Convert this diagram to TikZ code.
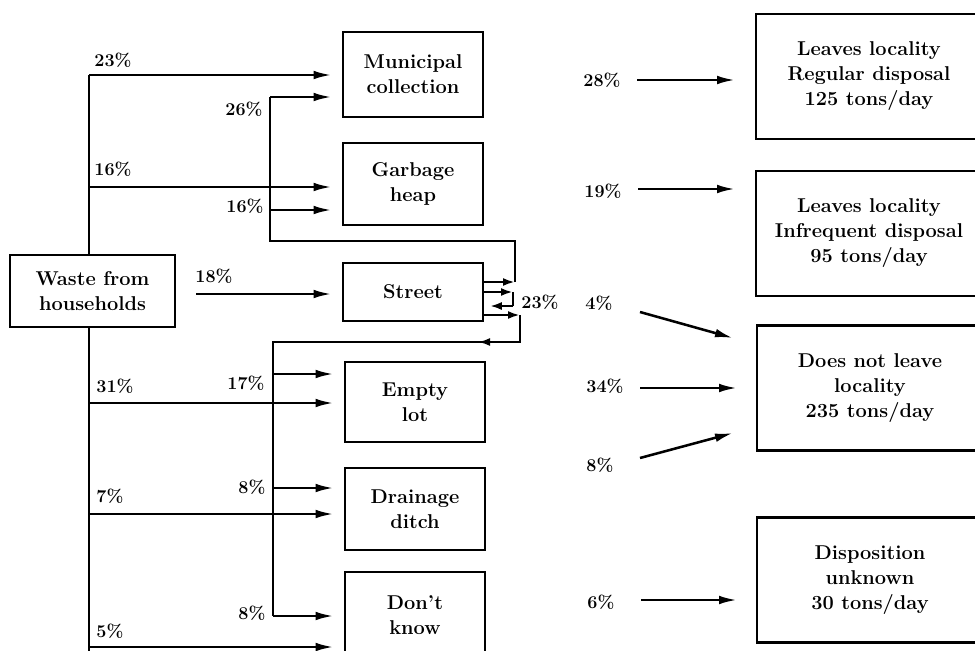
\documentclass[tikz,border=0pt]{standalone}
\usetikzlibrary{arrows.meta}
\begin{document}
\begin{tikzpicture}[x=0.75pt,y=-0.75pt,
  box/.style={draw, line width=2.2pt, inner sep=0pt, align=center, font=\fontsize{15}{18.75}\selectfont\bfseries},
  midbox/.style={box, minimum width=105pt},
  rbox/.style={box, minimum width=169.5pt, minimum height=93.75pt},
  pct/.style={inner sep=0pt, font=\fontsize{13.5}{16}\selectfont\bfseries},
  ln/.style={line width=1.9pt},
  arr/.style={ln, -{Latex[length=13.5pt,width=6.5pt]}, shorten >=7.5pt},
  arrR/.style={ln, -{Latex[length=13.5pt,width=6.5pt]}},
  tip/.style={ln, -{Latex[length=9pt,width=6pt]}}]
\useasboundingbox (0,0) rectangle (975,650);
\clip (0,0) rectangle (975,650);

% boxes
\node[box, minimum width=123.75pt, minimum height=54pt] (waste) at (92.5,291) {Waste from\\households};
\node[midbox, minimum height=63.75pt] (mun) at (413,74.5) {Municipal\\collection};
\node[midbox, minimum height=61.5pt] (gar) at (413,184) {Garbage\\heap};
\node[midbox, minimum height=43.5pt] (str) at (413,292) {Street};
\node[midbox, minimum height=60pt] (emp) at (415,402) {Empty\\lot};
\node[midbox, minimum height=61.5pt] (dra) at (415,509) {Drainage\\ditch};
\node[midbox, minimum height=64.5pt] (dk) at (415,615) {Don't\\know};

\node[rbox] (r1) at (869,76.5) {Leaves locality\\Regular disposal\\125 tons/day};
\node[rbox] (r2) at (869,233.5) {Leaves locality\\Infrequent disposal\\95 tons/day};
\node[rbox] (r3) at (870,388) {Does not leave\\locality\\235 tons/day};
\node[rbox] (r4) at (870,580) {Disposition\\unknown\\30 tons/day};

% left trunk
\coordinate (a23) at (89,75);
\coordinate (a16) at (89,187);
\coordinate (a31) at (89,403);
\coordinate (a7) at (89,514);
\coordinate (a5) at (89,647);
\coordinate (aend) at (89,660);
\draw[ln] (waste.north -| a23) -- (a23);
\draw[arr] (a23) -- (a23 -| mun.west);
\draw[arr] (a16) -- (a16 -| gar.west);
\draw[ln] (waste.south -| a23) -- (aend);
\draw[arr] (a31) -- (a31 -| emp.west);
\draw[arr] (a7) -- (a7 -| dra.west);
\draw[arr] (a5) -- (a5 -| dk.west);

% 18% into street
\coordinate (s18) at (196,294);
\draw[arr] (s18) -- (s18 -| str.west);

% street -> municipal / garbage
\coordinate (u1) at (515,282);
\coordinate (u2) at (515,241);
\coordinate (u3) at (270,241);
\coordinate (b26) at (270,97);
\coordinate (b16) at (270,210);
\draw[ln] (u1) -- (u2) -- (u3) -- (b26);
\draw[tip] (str.east |- u1) -- (u1);
\draw[arr] (b26) -- (b26 -| mun.west);
\draw[arr] (b16) -- (b16 -| gar.west);

% self loop
\coordinate (l1) at (513,292);
\coordinate (l2) at (513,306);
\draw[tip] (str.east |- l1) -- (l1);
\draw[ln] (l1) -- (l2);
\draw[tip, shorten >=4pt] (l2) -- (str.east |- l2);

% street -> empty lot / drainage / don't know
\coordinate (d1) at (520,315);
\coordinate (d2) at (520,342);
\coordinate (dh) at (478,342);
\coordinate (d3) at (273,342);
\coordinate (c17) at (273,374);
\coordinate (c8a) at (273,488);
\coordinate (c8b) at (273,616);
\draw[tip] (str.east |- d1) -- (d1);
\draw[ln] (d1) -- (d2) -- (d3) -- (c8b);
\draw[tip] (d2) -- (dh);
\draw[arr] (c17) -- (c17 -| emp.west);
\draw[arr] (c8a) -- (c8a -| dra.west);
\draw[arr] (c8b) -- (c8b -| dk.west);

% right arrows
\coordinate (p28) at (637,80);  \coordinate (q28) at (735,80);
\coordinate (p19) at (638,189); \coordinate (q19) at (735,189);
\coordinate (p4) at (640,312);  \coordinate (q4) at (733,338);
\coordinate (p34) at (640,388); \coordinate (q34) at (737,388);
\coordinate (p8) at (640,458);  \coordinate (q8) at (733,433);
\coordinate (p6) at (641,600);  \coordinate (q6) at (737,600);
\draw[arrR] (p28) -- (q28);
\draw[arrR] (p19) -- (q19);
\draw[arrR] (p4) -- (q4);
\draw[arrR] (p34) -- (q34);
\draw[arrR] (p8) -- (q8);
\draw[arrR] (p6) -- (q6);

% labels
\node[pct] (l23) at (113,60) {23\%};
\node[pct] (l16) at (113,169) {16\%};
\node[pct] (l26) at (244,109) {26\%};
\node[pct] (l16b) at (245,206) {16\%};
\node[pct] (l18) at (214,276) {18\%};
\node[pct] (l31) at (115,386) {31\%};
\node[pct] (l17) at (246,383) {17\%};
\node[pct] (l7) at (110,496) {7\%};
\node[pct] (l8a) at (252,487) {8\%};
\node[pct] (l8b) at (252,613) {8\%};
\node[pct] (l5) at (110,631) {5\%};
\node[pct] (l23b) at (540,302) {23\%};
\node[pct] (l4) at (599,303) {4\%};
\node[pct] (l28) at (602,80) {28\%};
\node[pct] (l19) at (603,191) {19\%};
\node[pct] (l34) at (605,386) {34\%};
\node[pct] (l8c) at (600,465) {8\%};
\node[pct] (l6) at (601,602) {6\%};
\end{tikzpicture}
\end{document}
